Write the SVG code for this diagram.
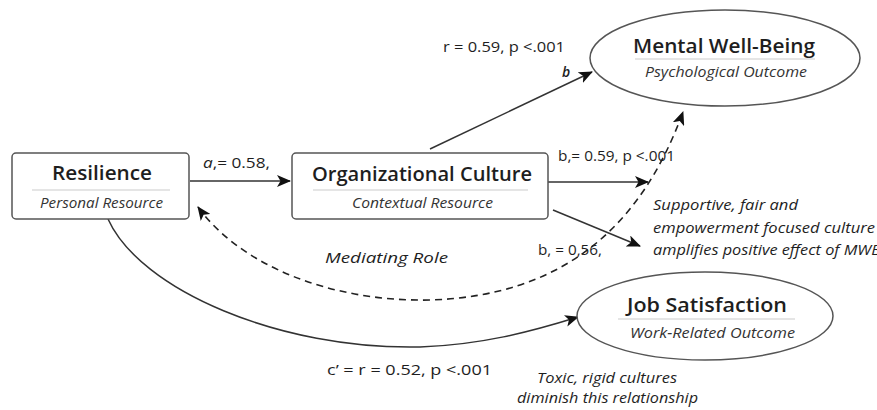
<svg xmlns="http://www.w3.org/2000/svg" width="877" height="410" viewBox="0 0 877 410">
<defs>
<marker id="arr" markerUnits="userSpaceOnUse" markerWidth="14" markerHeight="12" viewBox="0 0 14 12" refX="13" refY="6" orient="auto-start-reverse">
<path d="M0,0 L14,6 L0,12 L3.5,6 z" fill="#111"/>
</marker>
<style>
text{font-family:"Open Sans","Noto Sans","DejaVu Sans",sans-serif;fill:#1e1e1e}
.title{font-size:19px;font-weight:600;text-anchor:middle}
.sub{font-size:14px;font-style:italic;text-anchor:middle;fill:#333}
.lbl{font-size:14px}
.note{font-size:14.5px;font-style:italic}
.box{fill:#fff;stroke:#555;stroke-width:1.5}
.sep{stroke:#ccc;stroke-width:1.2}
.edge{fill:none;stroke:#333;stroke-width:1.5}
.dash{fill:none;stroke:#222;stroke-width:1.6;stroke-dasharray:7 5}
</style>
</defs>
<rect width="877" height="410" fill="#fff"/>

<g id="connectors">
<line class="edge" x1="190" y1="181" x2="290" y2="181" marker-end="url(#arr)"/>
<line class="edge" x1="430" y1="149" x2="592" y2="72" marker-end="url(#arr)"/>
<line class="edge" x1="548" y1="182" x2="648" y2="182" marker-end="url(#arr)"/>
<line class="edge" x1="553" y1="210" x2="640" y2="246" marker-end="url(#arr)"/>
<path class="edge" d="M108,219 C140,290 280,350 420,347 C480,345 530,332 578,317" marker-end="url(#arr)"/>
<path class="dash" d="M198,207 C240,265 330,302 430,300 C560,296 640,230 683,112" marker-start="url(#arr)" marker-end="url(#arr)"/>
</g>

<g id="labels">
<text class="lbl" x="203" y="168" textLength="67" lengthAdjust="spacingAndGlyphs"><tspan font-style="italic">a</tspan>,= 0.58,</text>
<text class="lbl" x="443" y="52" textLength="122" lengthAdjust="spacingAndGlyphs">r = 0.59, p &lt;.001</text>
<text class="lbl" x="562" y="77" font-style="italic" font-weight="600" font-size="15">b</text>
<text class="lbl" x="558" y="161" textLength="117" lengthAdjust="spacingAndGlyphs">b,= 0.59, p &lt;.001</text>
<text class="lbl" x="538" y="255" textLength="64" lengthAdjust="spacingAndGlyphs">b, = 0,56,</text>
<text class="note" x="325" y="263" textLength="123" lengthAdjust="spacingAndGlyphs">Mediating Role</text>
<text class="lbl" x="327" y="375" textLength="165" lengthAdjust="spacingAndGlyphs">c’ = r = 0.52, p &lt;.001</text>
<text class="note" x="653" y="210" textLength="145" lengthAdjust="spacingAndGlyphs">Supportive, fair and</text>
<text class="note" x="653" y="233" textLength="222" lengthAdjust="spacingAndGlyphs">empowerment focused culture</text>
<text class="note" x="653" y="255" textLength="228" lengthAdjust="spacingAndGlyphs">amplifies positive effect of MWB</text>
<text class="note" x="607" y="383" text-anchor="middle" textLength="140" lengthAdjust="spacingAndGlyphs">Toxic, rigid cultures</text>
<text class="note" x="607.5" y="403" text-anchor="middle" textLength="181" lengthAdjust="spacingAndGlyphs">diminish this relationship</text>
</g>

<g id="resilience">
<rect class="box" x="12" y="153" width="177" height="66" rx="4"/>
<text class="title" x="102" y="180" textLength="100" lengthAdjust="spacingAndGlyphs">Resilience</text>
<line class="sep" x1="32" y1="190" x2="170" y2="190"/>
<text class="sub" x="101.5" y="208" textLength="123" lengthAdjust="spacingAndGlyphs">Personal Resource</text>
</g>

<g id="organizational-culture">
<rect class="box" x="292" y="153" width="256" height="66" rx="4"/>
<text class="title" x="422" y="181" textLength="220" lengthAdjust="spacingAndGlyphs">Organizational Culture</text>
<line class="sep" x1="313" y1="190" x2="528" y2="190"/>
<text class="sub" x="422.5" y="208" textLength="141" lengthAdjust="spacingAndGlyphs">Contextual Resource</text>
</g>

<g id="mental-well-being">
<ellipse class="box" cx="725" cy="58" rx="135" ry="48"/>
<text class="title" x="724" y="53" textLength="182" lengthAdjust="spacingAndGlyphs">Mental Well-Being</text>
<line class="sep" x1="635" y1="59" x2="815" y2="59"/>
<text class="sub" x="726" y="77" textLength="162" lengthAdjust="spacingAndGlyphs">Psychological Outcome</text>
</g>

<g id="job-satisfaction">
<ellipse class="box" cx="705" cy="316" rx="128" ry="44"/>
<text class="title" x="707" y="312" textLength="160" lengthAdjust="spacingAndGlyphs">Job Satisfaction</text>
<line class="sep" x1="618" y1="319" x2="795" y2="319"/>
<text class="sub" x="712.5" y="338" textLength="165" lengthAdjust="spacingAndGlyphs">Work-Related Outcome</text>
</g>
</svg>
